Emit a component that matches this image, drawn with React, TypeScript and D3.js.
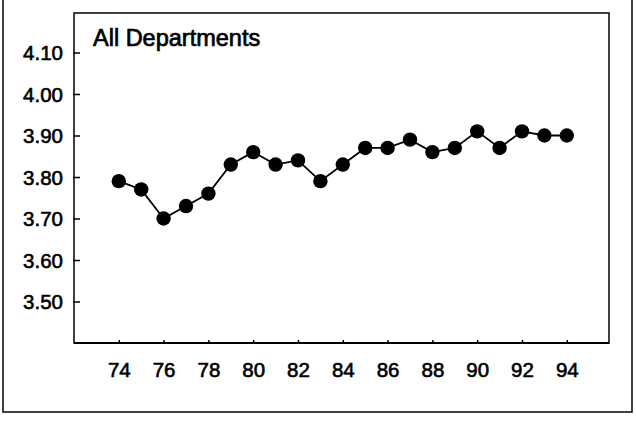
import { useEffect, useRef } from "react";
import * as d3 from "d3";

const WIDTH = 636;
const HEIGHT = 427;

const years = [74, 75, 76, 77, 78, 79, 80, 81, 82, 83, 84, 85, 86, 87, 88, 89, 90, 91, 92, 93, 94];
const values = [3.79, 3.77, 3.70, 3.73, 3.76, 3.83, 3.86, 3.83, 3.84, 3.79, 3.83, 3.87, 3.87, 3.89, 3.86, 3.87, 3.91, 3.87, 3.91, 3.90, 3.90];
const xTicks = [74, 76, 78, 80, 82, 84, 86, 88, 90, 92, 94];
const yTicks = [3.5, 3.6, 3.7, 3.8, 3.9, 4.0, 4.1];
const title = "All Departments";

const BOX = { left: 74, top: 13, right: 609, bottom: 343 };

const App = () => {
  const ref = useRef<SVGSVGElement>(null);

  useEffect(() => {
    const svg = d3.select(ref.current);
    svg.selectAll("*").remove();

    const x = d3.scaleLinear().domain([72, 96]).range([BOX.left, 611.6]);
    const y = d3.scaleLinear().domain([3.4, 4.2]).range([BOX.bottom, 11]);

    // outer frame
    svg.append("rect")
      .attr("x", 3).attr("y", -3)
      .attr("width", 629).attr("height", 415)
      .attr("fill", "none").attr("stroke", "#000").attr("stroke-width", 1.5);

    // plot box
    svg.append("rect")
      .attr("x", BOX.left).attr("y", BOX.top)
      .attr("width", BOX.right - BOX.left).attr("height", BOX.bottom - BOX.top)
      .attr("fill", "none").attr("stroke", "#000").attr("stroke-width", 1.5);
    svg.append("line")
      .attr("x1", BOX.left).attr("x2", BOX.right)
      .attr("y1", BOX.bottom).attr("y2", BOX.bottom)
      .attr("stroke", "#000").attr("stroke-width", 2);

    const font = "Liberation Sans, Arial, sans-serif";

    // y axis
    const yAxis = svg.append("g")
      .attr("transform", `translate(${BOX.left},0)`)
      .call(d3.axisLeft(y).tickValues(yTicks).tickFormat(d3.format(".2f")).tickSize(-6).tickPadding(11));
    yAxis.select(".domain").remove();
    yAxis.selectAll("line").attr("stroke-width", 1.5).attr("x1", -1);
    yAxis.selectAll("text")
      .attr("font-family", font).attr("font-size", 20.5).attr("fill", "#000")
      .attr("stroke", "#000").attr("stroke-width", 0.6).attr("dy", "0.36em");

    // x axis
    const xAxis = svg.append("g")
      .attr("transform", `translate(0,${BOX.bottom})`)
      .call(d3.axisBottom(x).tickValues(xTicks).tickFormat(d3.format("d")).tickSize(-3).tickPadding(19));
    xAxis.select(".domain").remove();
    xAxis.selectAll("line").attr("stroke-width", 1.5);
    xAxis.selectAll("text")
      .attr("font-family", font).attr("font-size", 20.5).attr("fill", "#000")
      .attr("stroke", "#000").attr("stroke-width", 0.6);

    const pts = years.map((yr, i) => [x(yr), y(values[i])] as [number, number]);

    svg.append("path")
      .attr("d", d3.line()(pts))
      .attr("fill", "none").attr("stroke", "#000").attr("stroke-width", 1.8);

    svg.append("g").selectAll("circle").data(pts).join("circle")
      .attr("cx", (d) => d[0]).attr("cy", (d) => d[1])
      .attr("r", 7.2).attr("fill", "#000");

    svg.append("text")
      .attr("x", 93).attr("y", 46)
      .attr("font-family", font).attr("font-size", 23.5)
      .attr("fill", "#000").attr("stroke", "#000").attr("stroke-width", 0.7)
      .text(title);
  }, []);

  return (
    <svg ref={ref} width={WIDTH} height={HEIGHT}
      style={{ position: "absolute", left: 0, top: 0, background: "#fff" }} />
  );
};

export default App;
